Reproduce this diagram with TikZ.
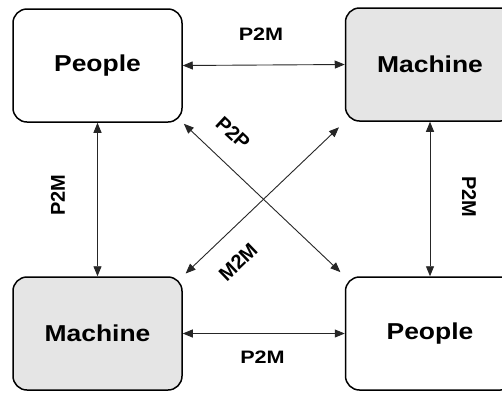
\documentclass[tikz,border=0pt]{standalone}
\usepackage{graphicx}
\usepackage{fontspec}
\setmainfont{Liberation Sans}
\usetikzlibrary{arrows.meta}
\begin{document}
\begin{tikzpicture}[x=1pt,y=-1pt,
  box/.style={draw=black, line width=1.5pt, rounded corners=14pt,
    minimum width=169pt, minimum height=113pt, inner sep=0pt,
    font=\fontsize{23}{23}\selectfont\bfseries},
  people/.style={box, fill=white},
  machine/.style={box, fill=gray!20},
  link/.style={draw=black!85, line width=0.9pt,
    {Triangle[length=10pt,width=8pt]}-{Triangle[length=10pt,width=8pt]}},
  hlab/.style={font=\fontsize{18}{18}\selectfont\bfseries, inner sep=0pt},
  rlab/.style={font=\fontsize{20}{20}\selectfont\bfseries, inner sep=0pt}]
\clip (0,0) rectangle (502,392);
\fill[white] (0,0) rectangle (502,392);

% the four parties
\node[people]  (tl) at (97.5,65.5) {\scalebox{1.15}[1]{People}};
\node[machine] (tr) at (430,64.5)  {\scalebox{1.15}[1]{Machine}};
\node[machine] (bl) at (97.5,333.5) {\scalebox{1.15}[1]{Machine}};
\node[people]  (br) at (430,333.5) {\scalebox{1.15}[1]{People}};

% links between them
\draw[link] (tl.east) -- (tr.west);
\draw[link] (bl.east) -- (br.west);
\draw[link] (tl.south) -- (bl.north);
\draw[link] (tr.south) -- (br.north);
\draw[link, shorten <=1.5pt, shorten >=6pt] (tl.south east) -- (br.north west);
\draw[link, shorten <=4pt, shorten >=8pt] (bl.north east) -- (tr.south west);

% link labels
\node[hlab] (l1) at (261,34.5) {\scalebox{1.2}[1]{P2M}};
\node[hlab] (l2) at (262.5,357) {\scalebox{1.2}[1]{P2M}};
\node[rlab, rotate=90]  (l3) at (58,195)  {P2M};
\node[rlab, rotate=-90] (l4) at (469,197) {P2M};
\node[rlab, rotate=-43] (l5) at (233,133) {P2P};
\node[rlab, rotate=44]  (l6) at (238,262) {M2M};
\end{tikzpicture}
\end{document}
